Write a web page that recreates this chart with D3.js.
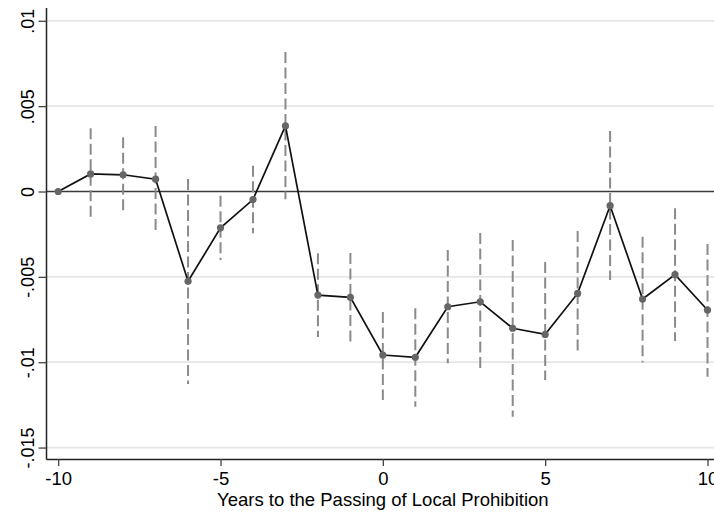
<!DOCTYPE html>
<html>
<head>
<meta charset="utf-8">
<script src="https://cdn.jsdelivr.net/npm/d3@7"></script>
<style>
  body { margin: 0; background: #fff; }
  text { font-family: "Liberation Sans", Arial, sans-serif; }
</style>
</head>
<body>
<svg id="chart" width="714" height="512"></svg>
<script>
// event-study coefficients
const years = [-10, -9, -8, -7, -6, -5, -4, -3, -2, -1, 0, 1, 2, 3, 4, 5, 6, 7, 8, 9, 10];
const coef = [0, 0.00103, 0.00098, 0.00072, -0.00526, -0.00213, -0.00047, 0.00384, -0.00607, -0.0062,
  -0.00958, -0.00971, -0.00675, -0.00646, -0.00801, -0.00837, -0.00597, -0.00083, -0.0063, -0.00487, -0.00694];
const ciLow = [null, -0.00157, -0.00114, -0.00245, -0.01128, -0.00401, -0.00245, -0.00046, -0.00852, -0.00887,
  -0.01221, -0.01261, -0.01006, -0.01036, -0.01319, -0.01104, -0.00958, -0.00518, -0.01001, -0.00876, -0.01085];
const ciHigh = [null, 0.0037, 0.00318, 0.00384, 0.00073, -0.00025, 0.00151, 0.00817, -0.00362, -0.0036,
  -0.00706, -0.00684, -0.00343, -0.00243, -0.00284, -0.00413, -0.00231, 0.00354, -0.00265, -0.00098, -0.00308];

const xTicks = [-10, -5, 0, 5, 10];
const xTickLabels = ['-10', '-5', '0', '5', '10'];
const yTicks = [-0.015, -0.01, -0.005, 0, 0.005, 0.01];
const yTickLabels = ['-.015', '-.01', '-.005', '0', '.005', '.01'];
const xTitle = 'Years to the Passing of Local Prohibition';

const svg = d3.select('#chart');
const plotLeft = 46.5, plotRight = 714, plotTop = 8, plotBottom = 459;

const x = d3.scaleLinear().domain([-10.36, 10.2]).range([plotLeft, plotRight]);
const y = d3.scaleLinear().domain([-0.01567, 0.01075]).range([plotBottom, plotTop]);

// gridlines (not at zero, that one is the reference line)
svg.append('g')
  .selectAll('line')
  .data(yTicks.filter(d => d !== 0))
  .enter()
  .append('line')
  .attr('x1', plotLeft)
  .attr('x2', plotRight)
  .attr('y1', d => y(d))
  .attr('y2', d => y(d))
  .style('stroke', '#e6e6e6')
  .style('stroke-width', 1.8);

// zero reference line
svg.append('line')
  .attr('x1', plotLeft)
  .attr('x2', plotRight)
  .attr('y1', y(0))
  .attr('y2', y(0))
  .style('stroke', '#3a3a3a')
  .style('stroke-width', 1.6);

// confidence intervals
const data = years.map((yr, i) => ({ yr, b: coef[i], lo: ciLow[i], hi: ciHigh[i] }));

svg.append('g')
  .selectAll('line')
  .data(data.filter(d => d.lo !== null))
  .enter()
  .append('line')
  .attr('x1', d => x(d.yr))
  .attr('x2', d => x(d.yr))
  .attr('y1', d => y(d.hi))
  .attr('y2', d => y(d.lo))
  .style('stroke', '#8a8a8a')
  .style('stroke-width', 2)
  .style('stroke-dasharray', '11,4.5');

// coefficient line
const line = d3.line().x(d => x(d.yr)).y(d => y(d.b));
svg.append('path')
  .datum(data)
  .attr('d', line)
  .style('fill', 'none')
  .style('stroke', '#111')
  .style('stroke-width', 1.7);

svg.append('g')
  .selectAll('circle')
  .data(data)
  .enter()
  .append('circle')
  .attr('cx', d => x(d.yr))
  .attr('cy', d => y(d.b))
  .attr('r', 3.6)
  .style('fill', '#666');

// axes
const xAxis = d3.axisBottom(x)
  .tickValues(xTicks)
  .tickSize(7)
  .tickPadding(6)
  .tickFormat((d, i) => xTickLabels[i]);

const gx = svg.append('g')
  .attr('transform', 'translate(0,' + plotBottom + ')')
  .call(xAxis);
gx.select('.domain').attr('d', 'M' + plotLeft + ',0.5H' + plotRight).style('stroke', '#222').style('stroke-width', 1.5);
gx.selectAll('.tick line').style('stroke', '#444').style('stroke-width', 1.3);
gx.selectAll('.tick text').style('font-size', '18.5px').style('fill', '#000');

const yAxis = d3.axisLeft(y)
  .tickValues(yTicks)
  .tickSize(8)
  .tickPadding(5)
  .tickFormat((d, i) => yTickLabels[i]);

const gy = svg.append('g')
  .attr('transform', 'translate(' + plotLeft + ',0)')
  .call(yAxis);
gy.select('.domain').attr('d', 'M0,' + plotTop + 'V' + (plotBottom + 0.5)).style('stroke', '#222').style('stroke-width', 1.5);
gy.selectAll('.tick line').style('stroke', '#444').style('stroke-width', 1.3);
gy.selectAll('.tick text')
  .style('font-size', '18px')
  .style('fill', '#000')
  .attr('text-anchor', 'middle')
  .attr('dy', null)
  .attr('x', null)
  .attr('transform', 'translate(-13,0) rotate(-90)');

// axis title
svg.append('text')
  .attr('x', (x(-10) + x(10)) / 2)
  .attr('y', 506)
  .attr('text-anchor', 'middle')
  .style('font-size', '18.5px')
  .text(xTitle);
</script>
</body>
</html>
